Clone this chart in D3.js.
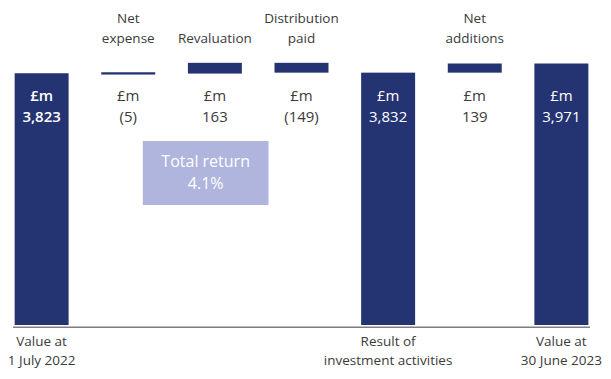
<!DOCTYPE html>
<html>
<head>
<meta charset="utf-8">
<script src="https://cdn.jsdelivr.net/npm/d3@7"></script>
<style>
  html, body { margin: 0; padding: 0; background: #ffffff; }
  svg { display: block; font-family: "Open Sans", sans-serif; }
</style>
</head>
<body>
<div id="chart"></div>
<script>
// ---- Data ----
const categories = ["Value at 1 July 2022", "Net expense", "Revaluation", "Distribution paid",
                    "Result of investment activities", "Net additions", "Value at 30 June 2023"];
const categoryLines = [["Value at", "1 July 2022"], ["Net", "expense"], ["Revaluation"], ["Distribution", "paid"],
                       ["Result of", "investment activities"], ["Net", "additions"], ["Value at", "30 June 2023"]];
const values = [3823, -5, 163, -149, 3832, 139, 3971];
const kinds = ["total", "delta", "delta", "delta", "total", "delta", "total"];
const valueLabels = ["3,823", "(5)", "163", "(149)", "3,832", "139", "3,971"];
const unitLabel = "£m";
const totalReturnLines = ["Total return", "4.1%"];

// ---- Layout ----
const W = 611, H = 379;
const baseY = 325, axisY = 327.3;
const navy = "#243372";
const textCol = "#3b3b3b";

const svg = d3.select("#chart").append("svg").attr("width", W).attr("height", H);

const x = d3.scaleBand().domain(categories).range([13, 590]).paddingInner(0.377).paddingOuter(0.019);
const y = d3.scaleLinear().domain([0, 3971]).range([baseY, 63.5]);
const bw = x.bandwidth();

// waterfall segments
let running = 0;
const segs = categories.map((c, i) => {
  let y0, y1;
  if (kinds[i] === "total") { y0 = 0; y1 = values[i]; running = values[i]; }
  else { y0 = running; y1 = running + values[i]; running = y1; }
  return { c, i, y0, y1, kind: kinds[i] };
});

// bars
svg.append("g").selectAll("rect").data(segs).join("rect")
  .attr("x", d => x(d.c))
  .attr("width", bw)
  .attr("y", d => {
    const top = y(Math.max(d.y0, d.y1)), bot = y(Math.min(d.y0, d.y1));
    return (bot - top < 2.3) ? (top + bot) / 2 - 1.15 : top;
  })
  .attr("height", d => Math.max(2.3, Math.abs(y(d.y0) - y(d.y1))))
  .attr("fill", navy);

// axis line
svg.append("line").attr("x1", 13).attr("x2", 590).attr("y1", axisY).attr("y2", axisY)
  .attr("stroke", "#7f7f7f").attr("stroke-width", 1.6);

// value labels
const vl = svg.append("g").attr("text-anchor", "middle").attr("font-size", 15);
segs.forEach(d => {
  const cx = x(d.c) + bw / 2;
  const isTot = d.kind === "total";
  const col = isTot ? "#ffffff" : textCol;
  const fw = d.i === 0 ? 600 : 400;
  vl.append("text").attr("x", cx).attr("y", 101).attr("fill", col).attr("font-weight", fw).text(unitLabel);
  vl.append("text").attr("x", cx).attr("y", 121.5).attr("fill", col).attr("font-weight", fw).text(valueLabels[d.i]);
});

// category labels
const cl = svg.append("g").attr("text-anchor", "middle").attr("font-size", 13.5).attr("fill", textCol);
segs.forEach(d => {
  const cx = x(d.c) + bw / 2;
  const lines = categoryLines[d.i];
  if (d.kind === "total") {
    lines.forEach((l, k) => cl.append("text").attr("x", cx).attr("y", 346 + k * 18.5).text(l));
  } else {
    const n = lines.length;
    lines.forEach((l, k) => cl.append("text").attr("x", cx).attr("y", 43 - (n - 1 - k) * 20).text(l));
  }
});

// total return annotation
const bx0 = x("Net expense") + bw * 0.77, bx1 = x("Distribution paid") - 6;
svg.append("rect").attr("x", bx0).attr("y", 141).attr("width", bx1 - bx0).attr("height", 64)
  .attr("fill", "#afb5dd");
totalReturnLines.forEach((l, k) => {
  svg.append("text").attr("x", (bx0 + bx1) / 2).attr("y", 166.5 + k * 22.5)
    .attr("text-anchor", "middle").attr("font-size", 16).attr("fill", "#ffffff").text(l);
});
</script>
</body>
</html>
